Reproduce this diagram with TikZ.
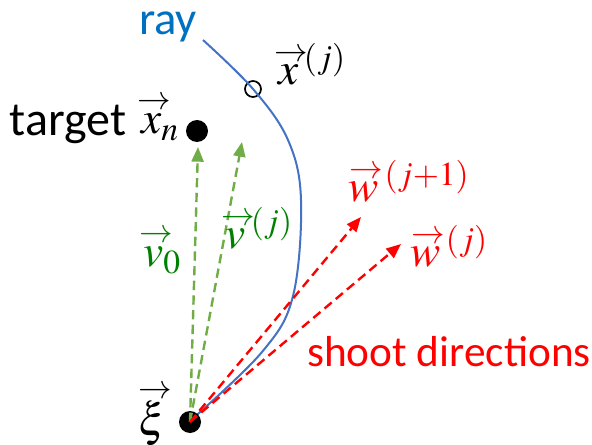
\documentclass[tikz,border=0pt]{standalone}
\usepackage{amsmath}
\usepackage{mathptmx}
\usepackage{fontspec}
\setmainfont{Carlito}
\usetikzlibrary{arrows.meta}
\definecolor{raybl}{RGB}{68,114,196}
\definecolor{raytx}{RGB}{0,112,192}
\definecolor{gArr}{RGB}{112,173,71}
\definecolor{gTxt}{RGB}{0,128,0}
\definecolor{rArr}{RGB}{255,0,0}
\tikzset{
  dot/.style={circle,fill=black,inner sep=0pt,minimum size=16.5pt},
  hollow/.style={circle,draw=black,line width=1.3pt,fill=none,inner sep=0pt,minimum size=12pt},
  dirarrow/.style={line width=1.8pt,dash pattern=on 7pt off 4pt,-{Triangle[length=11pt,width=9pt]}},
  mlabel/.style={inner sep=0pt,font=\fontsize{34}{36}\selectfont},
  tlabel/.style={inner sep=0pt,font=\fontsize{32.5}{34}\selectfont}
}
\newcommand{\va}[2][0.52em]{\mathord{\mbox{\ooalign{$#2$\cr\hidewidth\kern0.12em\raisebox{#1}{$\scriptstyle\rightarrow$}\hidewidth\cr}}}}
\newcommand{\sps}{\mkern3mu}
\begin{document}
\begin{tikzpicture}[x=0.75pt,y=-0.75pt]
\useasboundingbox (0,0) rectangle (592,445);
\node[dot] (xn) at (197,131) {};
\node[hollow] (xj) at (253,89) {};
% ray
\draw[raybl,line width=1.5pt] plot[smooth,tension=0.6] coordinates {(203,40) (253,89) (288,140) (301,200) (293,296) (262,352) (190,421)};
\node[dot] (xi) at (190,422) {};
% green arrows
\coordinate (v0tip) at (198,147);
\coordinate (vjtip) at (242,142);
\draw[dirarrow,gArr] (xi.center) -- (v0tip);
\draw[dirarrow,gArr] (xi.center) -- (vjtip);
% red arrows
\coordinate (w1tip) at (361,217);
\coordinate (w0tip) at (401,244);
\draw[dirarrow,rArr] (xi.center) -- (w1tip);
\draw[dirarrow,rArr] (xi.center) -- (w0tip);
% labels
\node[inner sep=0pt,font=\fontsize{35}{37}\selectfont,text=raytx] (ray) at (168,27) {ray};
\node[font=\fontsize{36}{38}\selectfont,inner sep=0pt] (target) at (68,124) {target};
\node[tlabel,text=rArr] (shoot) at (449,352) {shoot directions};
\node[mlabel] (lxn) at (160,127) {$\va{x}_n$};
\node[mlabel] (lxj) at (312,64) {$\va{x}^{\sps(j)}$};
\node[mlabel] (lxi) at (153,418) {$\va[0.8em]{\xi}$};
\node[mlabel,text=gTxt] (lv0) at (162,260) {$\va{v}_0$};
\node[mlabel,text=gTxt] (lvj) at (259,228) {$\va{v}^{\sps(j)}$};
\node[mlabel,text=rArr] (lw1) at (409,181) {$\va{w}^{\sps(j+1)}$};
\node[mlabel,text=rArr] (lw0) at (449,246) {$\va{w}^{\sps(j)}$};
\end{tikzpicture}
\end{document}
